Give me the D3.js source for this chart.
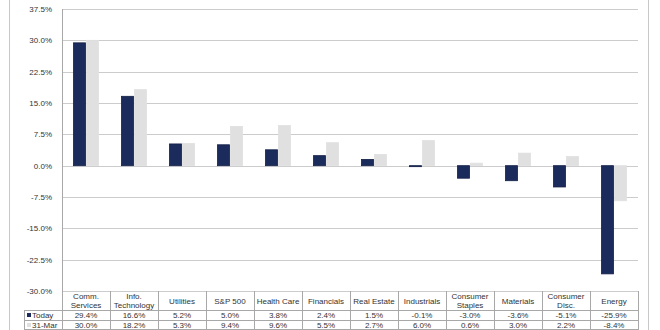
<!DOCTYPE html>
<html><head><meta charset="utf-8">
<script src="https://cdn.jsdelivr.net/npm/d3@7"></script>
<style>body{margin:0;background:#fff}svg{display:block;font-family:"Liberation Sans",Arial,sans-serif}</style>
</head><body><svg id="c" width="660" height="330"></svg>
<script>
const categories = [["Comm.","Services"],["Info.","Technology"],["Utilities"],["S&P 500"],["Health Care"],["Financials"],["Real Estate"],["Industrials"],["Consumer","Staples"],["Materials"],["Consumer","Disc."],["Energy"]];
const seriesNames = ["Today","31-Mar"];
const today = [29.4,16.6,5.2,5.0,3.8,2.4,1.5,-0.1,-3.0,-3.6,-5.1,-25.9];
const mar31 = [30.0,18.2,5.3,9.4,9.6,5.5,2.7,6.0,0.6,3.0,2.2,-8.4];
const yTicks = [37.5,30,22.5,15,7.5,0,-7.5,-15,-22.5,-30];

const fmt0 = d3.formatLocale({decimal:".",thousands:",",grouping:[3],currency:["$",""],minus:"-"}).format(".1f");
const fmt = d=>fmt0(d)+"%";
const colors = ["#1b2b5b","#e0e0e0"];
const strokes = ["#142048","#e0e0e0"];
const svg = d3.select("#c");
const L=62,R=638,T=9,B=291;
const keys = categories.map((c,i)=>i);
const x = d3.scaleBand().domain(keys).range([L,R]);
const xs = d3.scaleBand().domain([0,1]).range([11,37]);
const y = d3.scaleLinear().domain([-30,37.5]).range([B,T]);
const series=[today,mar31];

// outer frame
svg.append("line").attr("x1",9.5).attr("x2",9.5).attr("y1",0).attr("y2",330).attr("stroke","#c8c8c8");
svg.append("line").attr("x1",648.5).attr("x2",648.5).attr("y1",0).attr("y2",330).attr("stroke","#c8c8c8");

// gridlines
svg.append("g").selectAll("line").data(yTicks).join("line")
 .attr("x1",L).attr("x2",R).attr("y1",d=>Math.round(y(d))+0.5).attr("y2",d=>Math.round(y(d))+0.5)
 .attr("stroke","#cccccc");
// y labels
svg.append("g").selectAll("text").data(yTicks).join("text")
 .attr("x",52).attr("y",d=>y(d)+3).attr("text-anchor","end").attr("font-size",8).attr("fill","#333")
 .text(fmt);

// bars
series.forEach((vals,s)=>{
  svg.append("g").selectAll("rect").data(vals).join("rect")
   .attr("x",(d,i)=>x(i)+xs(s)+0.5).attr("width",xs.bandwidth()-1)
   .attr("y",d=>y(Math.max(0,d))).attr("height",d=>Math.max(1,Math.abs(y(d)-y(0))))
   .attr("fill",colors[s]).attr("stroke",strokes[s]).attr("stroke-width",0.8);
});

// axis line
svg.append("line").attr("x1",L+0.5).attr("x2",L+0.5).attr("y1",T).attr("y2",329).attr("stroke","#a8a8a8");

// table
const rowH=[291,310,320,329];
const tc="#a8a8a8";
const tg=svg.append("g");
tg.selectAll("line.v").data(keys).join("line")
 .attr("x1",i=>Math.round(x(i)+x.bandwidth())+0.5).attr("x2",i=>Math.round(x(i)+x.bandwidth())+0.5)
 .attr("y1",rowH[0]).attr("y2",rowH[3]).attr("stroke",tc);
[1,2,3].forEach(r=>{
  tg.append("line").attr("x1",24).attr("x2",R+1).attr("y1",rowH[r]+0.5).attr("y2",rowH[r]+0.5).attr("stroke",tc);
});
tg.append("line").attr("x1",24.5).attr("x2",24.5).attr("y1",rowH[1]).attr("y2",rowH[3]).attr("stroke",tc);

// headers
tg.selectAll("text.h").data(categories).join("text")
 .attr("text-anchor","middle").attr("font-size",8).attr("fill","#333")
 .each(function(c,i){
   const t=d3.select(this);
   const cx=x(i)+x.bandwidth()/2;
   if(c.length===1){t.append("tspan").attr("x",cx).attr("y",303.5).text(c[0]);}
   else{t.append("tspan").attr("x",cx).attr("y",298.5).text(c[0]);
        t.append("tspan").attr("x",cx).attr("y",307.5).text(c[1]);}
 });
// values
series.forEach((vals,s)=>{
  tg.append("g").selectAll("text").data(vals).join("text")
   .attr("x",(d,i)=>x(i)+x.bandwidth()/2).attr("y",rowH[s+1]+8)
   .attr("text-anchor","middle").attr("font-size",8).attr("fill","#333")
   .text(fmt);
  tg.append("rect").attr("x",27).attr("y",rowH[s+1]+3).attr("width",4).attr("height",4).attr("fill",colors[s]);
  tg.append("text").attr("x",32).attr("y",rowH[s+1]+8).attr("font-size",8).attr("fill","#333").text(seriesNames[s]);
});
</script></body></html>
